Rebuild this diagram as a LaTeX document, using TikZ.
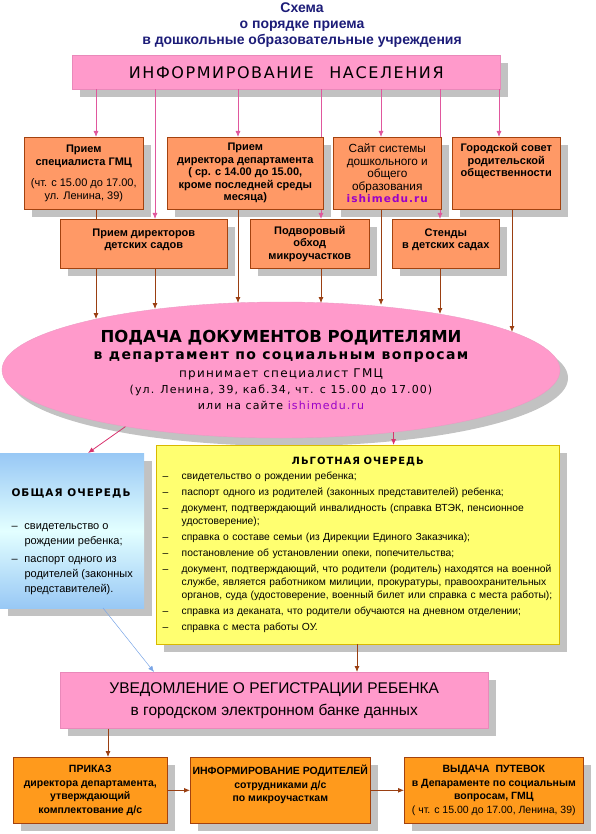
\documentclass[tikz,border=0pt]{standalone}
\usepackage{fontspec}
\setmainfont{Liberation Sans}
\newfontfamily\verd{DejaVu Sans}
\newfontfamily\verdsp[LetterSpace=10]{DejaVu Sans}
\usetikzlibrary{arrows.meta}
\usetikzlibrary{positioning}
\usetikzlibrary{shapes.geometric}
\usetikzlibrary{shadows}

\definecolor{navy}{HTML}{1C1C78}
\definecolor{pinkfill}{HTML}{FF9ACB}
\definecolor{pinkline}{HTML}{E0579D}
\definecolor{orangefill}{HTML}{FF9966}
\definecolor{orangeline}{HTML}{A3420F}
\definecolor{amberfill}{HTML}{FF9A1C}
\definecolor{brownline}{HTML}{9A3F12}
\definecolor{yellowfill}{HTML}{FFFF70}
\definecolor{yellowline}{HTML}{D8B800}
\definecolor{bluetop}{HTML}{98C8F5}
\definecolor{bluemid}{HTML}{E3FFFF}
\definecolor{blueline}{HTML}{7AA5E6}
\definecolor{sitepurple}{HTML}{9A00C8}
\definecolor{crimson}{HTML}{D8336E}

\newcommand{\dashitem}[1][19pt]{\makebox[#1][l]{–}}

\begin{document}
\begin{tikzpicture}[x=1pt,y=-1pt,
            every node/.style={align=center,inner sep=0pt},
            shadowed/.style={drop shadow={shadow xshift=8pt,shadow yshift=-8pt,fill=black!24,opacity=1}},
            info box/.style={shadowed,fill=orangefill,draw=orangeline,line width=0.6pt,anchor=north west,
                font=\bfseries\fontsize{11}{12.5}\selectfont},
            pink box/.style={shadowed,fill=pinkfill,draw=pinkline!70,line width=0.5pt,anchor=north west},
            stage box/.style={shadowed,fill=amberfill,draw=orangeline,line width=0.6pt,anchor=north west,
                font=\bfseries\fontsize{10.5}{13.5}\selectfont},
            pink arrow/.style={->,draw=pinkline,line width=0.8pt},
            brown arrow/.style={->,draw=brownline,line width=0.8pt}
        ]
        \tikzset{>={Latex[length=6pt,width=5pt]}}
        \useasboundingbox (0,0) rectangle (595,834);

        % columns of the connectors
        \coordinate (col1) at (96,0);
        \coordinate (col2) at (155,0);
        \coordinate (col3) at (238,0);
        \coordinate (col4) at (321,0);
        \coordinate (col5) at (381,0);
        \coordinate (col6) at (440,0);
        \coordinate (col7) at (499,0);
        % arrow tips on the ellipse
        \coordinate (tip1) at (96,319);
        \coordinate (tip2) at (155,309);
        \coordinate (tip3) at (238,303);
        \coordinate (tip4) at (321,303);
        \coordinate (tip5) at (381,305);
        \coordinate (tip6) at (440,314);
        \coordinate (tip7) at (512,332);

        \node[text=navy,font=\bfseries\fontsize{14}{16}\selectfont] (title) at (302,25) {Схема\\о порядке приема\\в дошкольные образовательные учреждения};
        \node[pink box,minimum width=428pt,minimum height=34pt,font=\verdsp\fontsize{16}{18}\selectfont] (inform) at (72,55) {ИНФОРМИРОВАНИЕ\hspace{9pt} НАСЕЛЕНИЯ};

        \node[info box,minimum width=119pt,minimum height=72pt] (spec) at (24,137) {Прием\\специалиста ГМЦ\\[9pt]{\mdseries (чт. с 15.00 до 17.00,}\\{\mdseries ул. Ленина, 39)}};
        \node[info box,minimum width=156pt,minimum height=72pt] (director) at (167,137) {Прием\\директора департамента\\( ср. с 14.00 до 15.00,\\кроме последней среды\\месяца)};
        \node[info box,minimum width=108pt,minimum height=72pt,font=\fontsize{11.8}{12.5}\selectfont] (site) at (333,137) {Сайт системы\\дошкольного и\\общего\\образования\\{\color{sitepurple}\verdsp\bfseries\fontsize{10.5}{12.5}\selectfont ishimedu.ru}};
        \node[info box,minimum width=108pt,minimum height=72pt] (council) at (452,137) {Городской совет\\родительской\\общественности\\[14pt]\mbox{}};
        \node[info box,minimum width=167pt,minimum height=49pt] (dirs) at (60,219) {Прием директоров\\детских садов\\[-2pt]\mbox{}};
        \node[info box,minimum width=119pt,minimum height=49pt] (walk) at (250,219) {Подворовый\\обход\\микроучастков};
        \node[info box,minimum width=107pt,minimum height=49pt] (stands) at (392,219) {Стенды\\в детских садах\\[-2pt]\mbox{}};

        \node[ellipse,shadowed,fill=pinkfill,draw=pinkline!60,minimum width=558pt,minimum height=136pt,font=\fontsize{11}{16}\selectfont] (oval) at (281,370) {{\verd\bfseries\fontsize{16.5}{19}\selectfont ПОДАЧА ДОКУМЕНТОВ РОДИТЕЛЯМИ}\\[1pt]{\verdsp\bfseries\fontsize{14}{19}\selectfont в департамент по социальным вопросам}\\[2pt]{\verdsp\fontsize{12}{16}\selectfont принимает специалист ГМЦ}\\{\verdsp\fontsize{11}{16}\selectfont (ул. Ленина, 39, каб.34, чт. с 15.00 до 17.00)}\\{\verdsp\fontsize{11}{16}\selectfont или на сайте {\color{sitepurple}ishimedu.ru}}};

        \node[shadowed,anchor=north west,top color=bluetop,bottom color=bluetop,middle color=bluemid,minimum width=144pt,minimum height=155pt,align=left,font=\fontsize{11}{15}\selectfont] (general) at (0,453) {\rule{0pt}{30pt}{\verdsp\bfseries\fontsize{10.5}{15}\selectfont ОБЩАЯ ОЧЕРЕДЬ}\\[18pt]
            \dashitem[13pt]свидетельство о\\
            \hspace*{13pt}рождении ребенка;\\[3pt]
            \dashitem[13pt]паспорт одного из\\
            \hspace*{13pt}родителей (законных\\
            \hspace*{13pt}представителей).};

        \node[shadowed,anchor=north west,fill=yellowfill,draw=yellowline,minimum width=403pt,minimum height=199pt,text width=390pt,align=left,font=\fontsize{10.3}{13}\selectfont] (privileged) at (156,445) {\makebox[\linewidth]{\verdsp\bfseries\fontsize{10}{13}\selectfont ЛЬГОТНАЯ ОЧЕРЕДЬ}\\[2pt]
            \dashitem свидетельство о рождении ребенка;\\[3pt]
            \dashitem паспорт одного из родителей (законных представителей) ребенка;\\[3pt]
            \dashitem документ, подтверждающий инвалидность (справка ВТЭК, пенсионное\\
            \hspace*{19pt}удостоверение);\\[3pt]
            \dashitem справка о составе семьи (из Дирекции Единого Заказчика);\\[3pt]
            \dashitem постановление об установлении опеки, попечительства;\\[3pt]
            \dashitem документ, подтверждающий, что родители (родитель) находятся на военной\\
            \hspace*{19pt}службе, является работником милиции, прокуратуры, правоохранительных\\
            \hspace*{19pt}органов, суда (удостоверение, военный билет или справка с места работы);\\[3pt]
            \dashitem справка из деканата, что родители обучаются на дневном отделении;\\[3pt]
            \dashitem справка с места работы ОУ.};

        \node[pink box,minimum width=428pt,minimum height=56pt,font=\fontsize{15.5}{22}\selectfont] (notice) at (60,672) {УВЕДОМЛЕНИЕ О РЕГИСТРАЦИИ РЕБЕНКА\\в городском электронном банке данных};

        \node[stage box,minimum width=154pt,minimum height=66pt] (order) at (13,757) {ПРИКАЗ\\директора департамента,\\утверждающий\\комплектование д/с};
        \node[stage box,minimum width=180pt,minimum height=66pt] (parents) at (190,757) {ИНФОРМИРОВАНИЕ РОДИТЕЛЕЙ\\сотрудниками д/с\\по микроучасткам\\[0pt]\mbox{}};
        \node[stage box,minimum width=179pt,minimum height=66pt] (voucher) at (404,757) {ВЫДАЧА\ \ ПУТЕВОК\\в Депараменте по социальным\\вопросам, ГМЦ\\{\mdseries ( чт. с 15.00 до 17.00, Ленина, 39)}};

        \coordinate (gtip) at (88,453);
        \coordinate (gout) at (103,608);
        \coordinate (ntip) at (154,672);
        \coordinate (col8) at (357,0);
        \coordinate (col9) at (108,0);

        \draw[pink arrow] (inform.south -| col1) -- (spec.north -| col1);
        \draw[pink arrow] (inform.south -| col2) -- (dirs.north -| col2);
        \draw[pink arrow] (inform.south -| col3) -- (director.north -| col3);
        \draw[draw=pinkline,line width=0.8pt] (inform.south -| col4) -- (director.north -| col4);
        \draw[pink arrow] (director.south -| col4) -- (walk.north -| col4);
        \draw[pink arrow] (inform.south -| col5) -- (site.north -| col5);
        \draw[draw=pinkline,line width=0.8pt] (inform.south -| col6) -- (site.north -| col6);
        \draw[pink arrow] (site.south -| col6) -- (stands.north -| col6);
        \draw[pink arrow] (inform.south -| col7) -- (council.north -| col7);

        \draw[draw=brownline,line width=0.8pt] (spec.south -| col1) -- (dirs.north -| col1);
        \draw[brown arrow] (dirs.south -| col1) -- (tip1);
        \draw[brown arrow] (dirs.south -| col2) -- (tip2);
        \draw[brown arrow] (director.south -| col3) -- (tip3);
        \draw[brown arrow] (walk.south -| col4) -- (tip4);
        \draw[brown arrow] (site.south -| col5) -- (tip5);
        \draw[brown arrow] (stands.south -| col6) -- (tip6);
        \draw[brown arrow] (council.south -| tip7) -- (tip7);

        \draw[->,draw=crimson,line width=0.8pt] (oval.200) -- (gtip);
        \draw[->,draw=crimson,line width=0.8pt] (oval.-29) -- (oval.-29 |- privileged.north);
        \draw[->,draw=blueline,line width=0.5pt] (gout) -- (ntip);
        \draw[brown arrow] (privileged.south -| col8) -- (notice.north -| col8);
        \draw[brown arrow] (notice.south -| col9) -- (order.north -| col9);
        \draw[brown arrow] (order) -- (parents);
        \draw[brown arrow] (parents) -- (voucher);
    \end{tikzpicture}
\end{document}
